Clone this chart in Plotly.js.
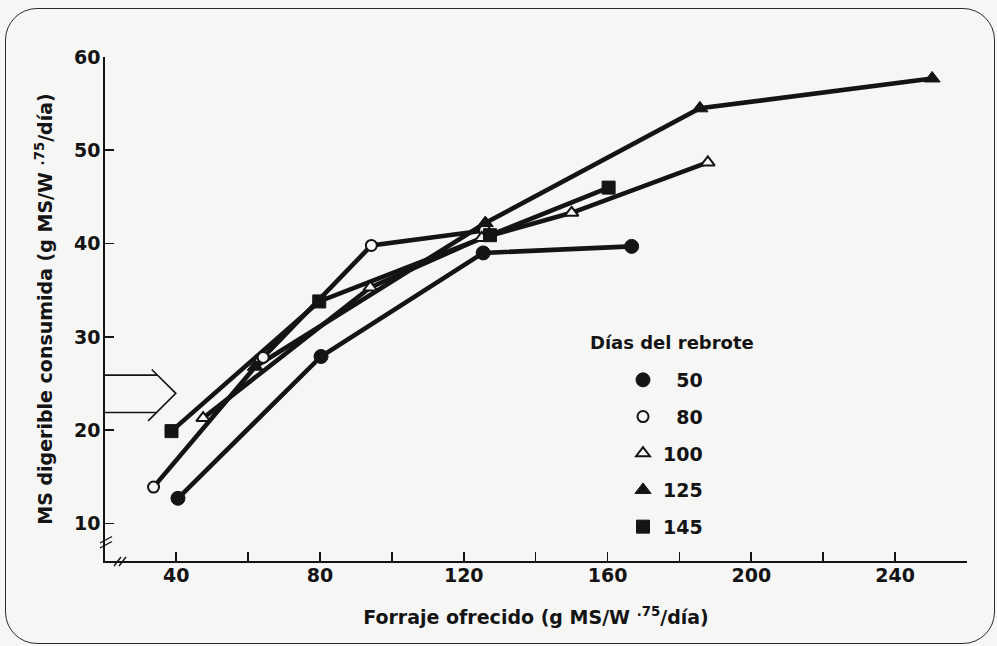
<!DOCTYPE html>
<html>
<head>
<meta charset="utf-8">
<script src="https://cdn.plot.ly/plotly-3.0.1.min.js"></script>
<style>
  html, body { margin: 0; padding: 0; background: #f6f6f4; }
  #wrap { position: relative; width: 997px; height: 646px; overflow: hidden; }
  #frame { position: absolute; left: 5px; top: 8px; width: 988px; height: 634px;
           border: 1.6px solid #2a2a2a; border-radius: 32px; pointer-events: none; }
  #chart { position: absolute; left: 0; top: 0; width: 997px; height: 646px; }
</style>
</head>
<body>
<div id="wrap">
  <div id="frame"></div>
  <div id="chart"></div>
</div>
<script>
// ---- data ----
const x50  = [40.5, 80.3, 125.4, 166.7];
const y50  = [12.7, 27.9, 39.0, 39.7];
const x80  = [33.7, 64.2, 94.3, 125.8];
const y80  = [13.9, 27.8, 39.8, 41.4];
const x100 = [47.5, 94.0, 125.0, 150.0, 187.9];
const y100 = [21.3, 35.3, 40.6, 43.3, 48.7];
const x125 = [62.0, 126.0, 185.7, 250.3];
const y125 = [26.8, 42.2, 54.5, 57.7];
const x145 = [38.7, 79.8, 127.3, 160.3];
const y145 = [19.9, 33.8, 40.9, 46.0];

const seriesNames = ['\u200750', '\u200780', '100', '125', '145'];
const xTickVals = [40, 80, 120, 160, 200, 240];
const xTickText = ['40', '80', '120', '160', '200', '240'];
const yTickVals = [10, 20, 30, 40, 50, 60];
const yTickText = ['10', '20', '30', '40', '50', '60'];

const xTitle = 'Forraje ofrecido (g MS/W <sup>.75</sup>/día)';
const yTitle = 'MS digerible consumida (g MS/W <sup>.75</sup>/día)';
const legendTitle = 'Días del rebrote';

// ---- styling ----
const BG = '#f6f6f4';
const INK = '#141414';
const FONT = {family: 'DejaVu Sans, Arial, sans-serif', size: 19, color: INK, weight: 'bold'};

const xs = [x50, x80, x100, x125, x145];
const ys = [y50, y80, y100, y125, y145];
const markers = [
  {symbol: 'circle', size: 14, color: INK, line: {color: INK, width: 1}},
  {symbol: 'circle', size: 11, color: BG, line: {color: INK, width: 2}},
  {symbol: 'triangle-up', size: 12, color: BG, line: {color: INK, width: 2}},
  {symbol: 'triangle-up', size: 14, color: INK, line: {color: INK, width: 1}},
  {symbol: 'square', size: 13, color: INK, line: {color: INK, width: 1}}
];

const traces = [];
for (let i = 0; i < xs.length; i++) {
  traces.push({x: xs[i], y: ys[i], type: 'scatter', mode: 'lines',
    line: {color: INK, width: 4.6}, showlegend: false, hoverinfo: 'skip',
    legendgroup: 'g' + i});
}
for (let i = 0; i < xs.length; i++) {
  traces.push({x: xs[i], y: ys[i], type: 'scatter', mode: 'markers',
    marker: markers[i], name: seriesNames[i], legendgroup: 'g' + i, showlegend: true});
}

// paper-coordinate helpers for decorations (plot area 105..967 x 57..561 px)
const L = 105, R = 967, T = 57, B = 561;
const px = v => (v - L) / (R - L);
const py = v => (B - v) / (B - T);

const shapes = [
  // hollow arrow on the left (data coordinates)
  {type: 'line', xref: 'x', yref: 'y', x0: 20.2, y0: 25.9, x1: 34.8, y1: 25.9, line: {color: INK, width: 1.6}},
  {type: 'line', xref: 'x', yref: 'y', x0: 20.2, y0: 21.9, x1: 34.6, y1: 21.9, line: {color: INK, width: 1.6}},
  {type: 'path', xref: 'x', yref: 'y', path: 'M33.2,26.5 L39.9,23.95 L32.2,21.0', line: {color: INK, width: 1.6}},
  // axis break marks on y axis
  {type: 'line', xref: 'paper', yref: 'paper', x0: px(100), y0: py(543), x1: px(112), y1: py(536.5), line: {color: INK, width: 1.4}},
  {type: 'line', xref: 'paper', yref: 'paper', x0: px(100), y0: py(548), x1: px(112), y1: py(541.5), line: {color: INK, width: 1.4}},
  // axis break marks on x axis
  {type: 'line', xref: 'paper', yref: 'paper', x0: px(114), y0: py(566), x1: px(121), y1: py(557), line: {color: INK, width: 1.4}},
  {type: 'line', xref: 'paper', yref: 'paper', x0: px(119), y0: py(566), x1: px(126), y1: py(557), line: {color: INK, width: 1.4}}
];

const layout = {
  width: 997, height: 646,
  margin: {l: L, r: 997 - R, t: T, b: 646 - B},
  paper_bgcolor: 'rgba(0,0,0,0)',
  plot_bgcolor: 'rgba(0,0,0,0)',
  font: FONT,
  showlegend: true,
  legend: {
    x: px(623), xanchor: 'left', y: py(361), yanchor: 'top',
    bgcolor: 'rgba(0,0,0,0)', borderwidth: 0,
    font: FONT, tracegroupgap: 9, traceorder: 'grouped', itemsizing: 'trace'
  },
  xaxis: {
    range: [20.2, 260], showgrid: false, zeroline: false,
    showline: true, linecolor: INK, linewidth: 1.7,
    ticks: 'inside', ticklen: 9, tickwidth: 1.7, tickcolor: INK,
    tickmode: 'array', tickvals: xTickVals, ticktext: xTickText,
    minor: {tick0: 20, dtick: 20, ticks: 'inside', ticklen: 9, tickwidth: 1.7, tickcolor: INK, showgrid: false},
    tickfont: FONT, ticklabelstandoff: -4,
    title: {text: xTitle, font: FONT, standoff: 26}
  },
  yaxis: {
    range: [5.98, 60], showgrid: false, zeroline: false,
    showline: true, linecolor: INK, linewidth: 1.7,
    ticks: 'inside', ticklen: 9, tickwidth: 1.7, tickcolor: INK,
    tickmode: 'array', tickvals: yTickVals, ticktext: yTickText,
    tickfont: FONT, ticklabelstandoff: -1,
    title: {text: yTitle, font: FONT, standoff: 16}
  },
  shapes: shapes,
  annotations: [
    {text: legendTitle, xref: 'paper', yref: 'paper', x: px(672), y: py(342),
     xanchor: 'center', yanchor: 'middle', showarrow: false,
     font: {family: FONT.family, size: 18, color: INK, weight: 'bold'}}
  ]
};

Plotly.newPlot('chart', traces, layout, {displayModeBar: false, staticPlot: true});
</script>
</body>
</html>
